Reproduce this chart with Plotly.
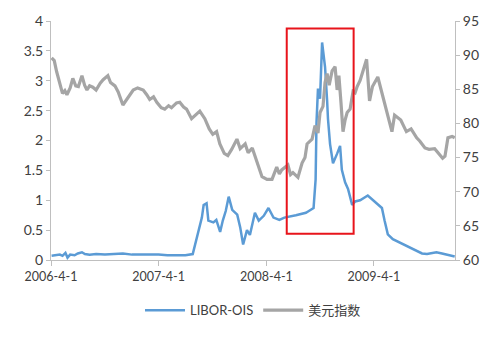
import plotly.graph_objects as go

# LIBOR-OIS spread (left axis, %)
libor_dates = [
    "2006-04-03", "2006-04-15", "2006-05-01", "2006-05-10", "2006-05-20", "2006-05-27",
    "2006-06-05", "2006-06-20", "2006-07-01", "2006-07-15", "2006-07-25", "2006-08-10",
    "2006-09-01", "2006-10-01", "2006-11-01", "2006-12-01", "2007-01-01", "2007-02-01",
    "2007-03-01", "2007-04-01", "2007-05-01", "2007-06-01", "2007-07-01", "2007-07-26",
    "2007-08-08", "2007-08-17", "2007-08-26", "2007-09-01", "2007-09-11", "2007-09-17",
    "2007-10-04", "2007-10-14", "2007-10-27", "2007-11-05", "2007-11-15", "2007-11-25",
    "2007-12-07", "2007-12-24", "2008-01-03", "2008-01-13", "2008-01-26", "2008-02-05",
    "2008-02-22", "2008-03-06", "2008-03-23", "2008-04-08", "2008-04-25", "2008-05-15",
    "2008-06-01", "2008-07-10", "2008-08-13", "2008-08-23", "2008-09-08", "2008-09-15",
    "2008-09-18", "2008-09-23", "2008-09-30", "2008-10-07", "2008-10-17", "2008-10-24",
    "2008-10-27", "2008-11-03", "2008-11-10", "2008-11-13", "2008-11-27", "2008-12-07",
    "2008-12-13", "2008-12-24", "2009-01-03", "2009-01-17", "2009-01-27", "2009-02-13",
    "2009-03-11", "2009-04-04", "2009-04-28", "2009-05-07", "2009-05-18", "2009-06-04",
    "2009-07-07", "2009-08-10", "2009-09-11", "2009-09-28", "2009-10-30", "2009-11-18",
    "2009-12-15", "2009-12-31",
]
libor_values = [
    0.07, 0.08, 0.09, 0.07, 0.12, 0.04,
    0.09, 0.08, 0.11, 0.13, 0.10, 0.09,
    0.10, 0.09, 0.10, 0.11, 0.09, 0.09,
    0.10, 0.09, 0.08, 0.08, 0.08, 0.10,
    0.34, 0.55, 0.71, 0.92, 0.95, 0.66,
    0.63, 0.67, 0.47, 0.66, 0.82, 1.06,
    0.84, 0.76, 0.55, 0.26, 0.50, 0.42,
    0.79, 0.66, 0.74, 0.87, 0.71, 0.67,
    0.71, 0.75, 0.79, 0.82, 0.87, 1.35,
    2.30, 2.87, 2.70, 3.64, 3.23, 2.67,
    2.36, 1.94, 1.73, 1.62, 1.78, 1.91,
    1.51, 1.30, 1.19, 0.92, 0.98, 1.00,
    1.08, 0.98, 0.87, 0.66, 0.43, 0.35,
    0.27, 0.19, 0.11, 0.10, 0.13, 0.11,
    0.08, 0.06,
]

# US dollar index (right axis)
dxy_dates = [
    "2006-04-03", "2006-04-12", "2006-04-20", "2006-05-01", "2006-05-10", "2006-05-18",
    "2006-05-25", "2006-06-05", "2006-06-14", "2006-06-24", "2006-07-03", "2006-07-15",
    "2006-07-24", "2006-08-01", "2006-08-10", "2006-08-21", "2006-09-01", "2006-09-15",
    "2006-09-25", "2006-10-11", "2006-10-20", "2006-11-04", "2006-11-15", "2006-12-01",
    "2006-12-10", "2006-12-18", "2007-01-05", "2007-01-20", "2007-02-08", "2007-02-20",
    "2007-03-02", "2007-03-15", "2007-03-26", "2007-04-10", "2007-04-22", "2007-05-05",
    "2007-05-15", "2007-06-01", "2007-06-12", "2007-06-25", "2007-07-05", "2007-07-22",
    "2007-08-05", "2007-08-19", "2007-09-05", "2007-09-20", "2007-10-02", "2007-10-15",
    "2007-10-26", "2007-11-10", "2007-11-22", "2007-12-05", "2007-12-23", "2008-01-03",
    "2008-01-20", "2008-01-30", "2008-02-13", "2008-03-01", "2008-03-10", "2008-03-17",
    "2008-04-03", "2008-04-20", "2008-05-06", "2008-05-15", "2008-05-23", "2008-06-13",
    "2008-06-22", "2008-06-30", "2008-07-17", "2008-07-31", "2008-08-10", "2008-08-17",
    "2008-09-03", "2008-09-13", "2008-09-23", "2008-09-30", "2008-10-10", "2008-10-17",
    "2008-10-24", "2008-10-31", "2008-11-10", "2008-11-20", "2008-11-27", "2008-12-03",
    "2008-12-10", "2008-12-17", "2008-12-24", "2008-12-31", "2009-01-10", "2009-01-20",
    "2009-01-27", "2009-02-03", "2009-02-13", "2009-02-20", "2009-03-01", "2009-03-07",
    "2009-03-17", "2009-03-27", "2009-04-14", "2009-04-28", "2009-05-11", "2009-06-01",
    "2009-06-10", "2009-07-01", "2009-07-20", "2009-08-05", "2009-08-24", "2009-09-04",
    "2009-09-21", "2009-10-05", "2009-10-24", "2009-11-05", "2009-11-20", "2009-11-28",
    "2009-12-08", "2009-12-22", "2009-12-31",
]
dxy_values = [
    89.6, 89.2, 87.6, 85.8, 84.4, 84.8,
    84.2, 85.2, 86.6, 85.5, 85.4, 87.0,
    85.6, 84.9, 85.5, 85.3, 84.9, 85.9,
    86.4, 87.0, 86.0, 85.5, 84.6, 82.7,
    83.3, 83.9, 84.9, 85.2, 84.9, 84.2,
    83.5, 83.9, 83.1, 82.3, 82.1, 82.6,
    82.3, 83.0, 83.1, 82.4, 82.1, 80.7,
    81.2, 81.8, 80.7, 79.2, 78.4, 78.8,
    77.0, 75.6, 75.3, 76.2, 77.7, 76.3,
    77.0, 75.7, 76.4, 74.2, 72.8, 72.2,
    71.8, 71.8, 73.6, 72.6, 73.2, 73.9,
    72.5, 72.8, 72.1, 74.2, 75.0, 77.0,
    77.7, 79.7, 78.6, 81.6, 82.5, 86.0,
    87.3, 85.6, 87.7, 88.3, 84.9, 87.0,
    83.1, 78.8, 80.5, 81.6, 82.1, 84.7,
    84.5, 85.4, 86.3, 87.3, 88.6, 89.4,
    83.3, 85.4, 86.8, 84.5, 82.6, 78.8,
    81.2, 80.5, 78.8, 79.2, 77.9, 77.4,
    76.4, 76.2, 76.3, 75.6, 74.9, 75.2,
    77.9, 78.1, 77.9,
]

x_tick_vals = ["2006-04-01", "2007-04-01", "2008-04-01", "2009-04-01"]
x_tick_text = ["2006-4-1", "2007-4-1", "2008-4-1", "2009-4-1"]
left_ticks = [0, 0.5, 1, 1.5, 2, 2.5, 3, 3.5, 4]
right_ticks = [60, 65, 70, 75, 80, 85, 90, 95]

font_main = "Lato, 'Open Sans', sans-serif"
axis_col = "#BFBFBF"
text_col = "#404040"

fig = go.Figure()
fig.add_trace(go.Scatter(
    x=libor_dates, y=libor_values, name="LIBOR-OIS", mode="lines",
    line=dict(color="#5B9BD5", width=2.5), yaxis="y"))
fig.add_trace(go.Scatter(
    x=dxy_dates, y=dxy_values, name="美元指数", mode="lines",
    line=dict(color="#A5A5A5", width=3.2), yaxis="y2"))

fig.add_shape(type="rect", xref="x", yref="y",
              x0="2008-06-09", x1="2009-01-22", y0=0.44, y1=3.876,
              line=dict(color="#E8141B", width=2), fillcolor="rgba(0,0,0,0)")

fig.update_layout(
    width=500, height=337,
    margin=dict(l=51, r=45, t=15, b=73),
    paper_bgcolor="white", plot_bgcolor="white",
    font=dict(family=font_main, size=12, color=text_col),
    showlegend=True,
    legend=dict(orientation="h", x=0.5, xanchor="center", y=-0.21, yanchor="middle",
                font=dict(family="Lato, 'Noto Sans CJK SC', sans-serif", size=13, color=text_col),
                itemwidth=40, tracegroupgap=0),
    xaxis=dict(
        type="date", range=["2006-04-01", "2010-01-01"],
        tickvals=x_tick_vals, ticktext=x_tick_text,
        showgrid=False, zeroline=False,
        showline=True, linecolor=axis_col, linewidth=1,
        ticks="outside", ticklen=5, tickcolor=axis_col,
        tickfont=dict(size=12.5),
    ),
    yaxis=dict(
        range=[0, 4], tickvals=left_ticks,
        showgrid=False, zeroline=False,
        showline=True, linecolor=axis_col, linewidth=1,
        ticks="outside", ticklen=4, tickcolor=axis_col,
        tickfont=dict(size=14),
    ),
    yaxis2=dict(
        range=[60, 95], tickvals=right_ticks,
        overlaying="y", side="right",
        showgrid=False, zeroline=False,
        showline=True, linecolor=axis_col, linewidth=1,
        ticks="outside", ticklen=4, tickcolor=axis_col,
        tickfont=dict(size=14),
    ),
)

fig.write_html("out.html")
